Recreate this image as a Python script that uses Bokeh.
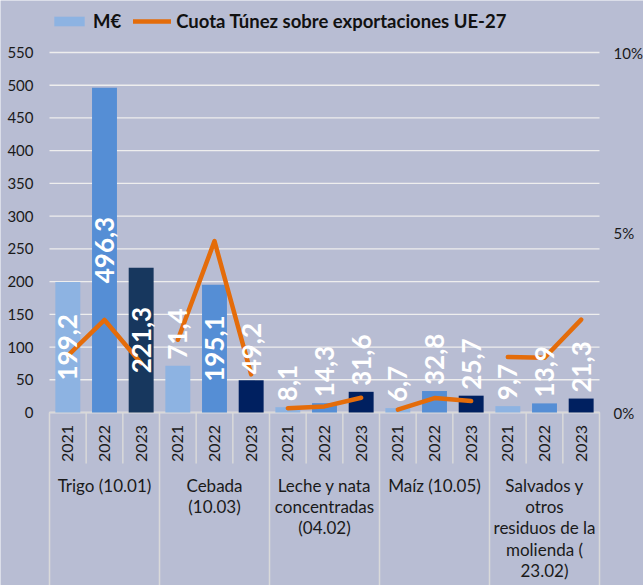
import numpy as np
from bokeh.plotting import figure
from bokeh.models import Range1d, ColumnDataSource, Legend, LegendItem
from bokeh.core.properties import value
from bokeh.embed import file_html
from bokeh.resources import INLINE

# ---------------- data ----------------
groups = ["Trigo (10.01)", "Cebada\n(10.03)", "Leche y nata\nconcentradas\n(04.02)",
          "Maíz (10.05)", "Salvados y\notros\nresiduos de la\nmolienda (\n23.02)"]
years = ["2021", "2022", "2023"]
meur_trigo = [199.2, 496.3, 221.3]
meur_cebada = [71.4, 195.1, 49.2]
meur_leche = [8.1, 14.3, 31.6]
meur_maiz = [6.7, 32.8, 25.7]
meur_salvados = [9.7, 13.9, 21.3]
share_trigo = [1.58, 2.57, 1.37]
share_cebada = [2.02, 4.76, 1.06]
share_leche = [0.12, 0.17, 0.41]
share_maiz = [0.08, 0.40, 0.32]
share_salvados = [1.54, 1.52, 2.58]
left_ticks = list(range(0, 551, 50))
right_ticks = [0, 5, 10]

meur = [meur_trigo, meur_cebada, meur_leche, meur_maiz, meur_salvados]
share = [share_trigo, share_cebada, share_leche, share_maiz, share_salvados]

# ---------------- styles / layout ----------------
FONT = "Lato"
BG = "#b8bdd3"
C2021, C2022, C2023, C2023_TRIGO = "#8db3e2", "#558ed5", "#002060", "#17375e"
ORANGE = "#e46c0a"
SEP = "#d9d9d9"
GRID = "#eeeeee"
TXT = "#1a1a1a"
W, H = 643, 585
PLOT_L, PLOT_R = 49, 599   # px of the category area
BASE_Y = 412               # px from top to the zero line
PX = 360 / 550             # px per M€
Y_END = BASE_Y / PX
Y_START = -(H - BASE_Y) / PX
PCT = 10 / 550             # % per M€ unit on the secondary scale

n_per = len(years)
n_g = len(groups)
n_slots = n_per * n_g
SLOT = (PLOT_R - PLOT_L) / n_slots
X_START = -PLOT_L / SLOT
X_END = n_slots + (W - PLOT_R) / SLOT

xs, tops, cols, lbl_txt = [], [], [], []
for gi, vals in enumerate(meur):
    for yi, v in enumerate(vals):
        xs.append(gi * n_per + yi + 0.5)
        tops.append(v)
        if yi == 0:
            cols.append(C2021)
        elif yi == 1:
            cols.append(C2022)
        else:
            cols.append(C2023_TRIGO if gi == 0 else C2023)
        lbl_txt.append(f"{v:.1f}".replace(".", ","))

p = figure(width=W, height=H, output_backend="svg", toolbar_location=None,
           x_range=Range1d(X_START, X_END), y_range=Range1d(Y_START, Y_END),
           x_axis_location=None, y_axis_location=None,
           min_border=0)
p.extra_y_ranges = {"pct": Range1d(Y_START * PCT, Y_END * PCT)}
p.background_fill_color = BG
p.border_fill_color = BG
p.outline_line_color = None
p.grid.visible = False

# horizontal grid lines over the category area
p.segment(x0=[0] * len(left_ticks), x1=[n_slots] * len(left_ticks), y0=left_ticks,
          y1=left_ticks, line_color=GRID, line_width=1.3)

# value-axis labels
p.text(x=[0] * len(left_ticks), y=left_ticks, text=[str(t) for t in left_ticks],
       x_offset=-16, text_align="right", text_baseline="middle", text_font=value(FONT),
       text_font_size="15px", text_color=TXT)
p.text(x=[n_slots] * len(right_ticks), y=right_ticks, text=[f"{t}%" for t in right_ticks],
       y_range_name="pct", x_offset=14, text_align="left", text_baseline="middle",
       text_font=value(FONT), text_font_size="15px", text_color=TXT)

# separators below the axis
inner = [g * n_per + k for g in range(n_g) for k in range(1, n_per)]
outer = [g * n_per for g in range(n_g + 1)]
year_depth = -(463 - 412) / PX
p.segment(x0=inner, x1=inner, y0=[0] * len(inner), y1=[year_depth] * len(inner),
          line_color=SEP, line_width=1.5)
p.segment(x0=outer, x1=outer, y0=[0] * len(outer), y1=[Y_START] * len(outer),
          line_color=SEP, line_width=1.5)
p.segment(x0=[0], x1=[n_slots], y0=[0], y1=[0], line_color=SEP, line_width=1.5)

src = ColumnDataSource(dict(x=xs, top=tops, color=cols, label=lbl_txt))
bars = p.vbar(x="x", top="top", bottom=0, width=0.68, fill_color="color",
              line_color=None, source=src)

# line (secondary scale), one piece per product
line_xs = [[g * n_per + k + 0.5 for k in range(n_per)] for g in range(n_g)]
line_ys = [list(s) for s in share]
line = p.multi_line(xs=line_xs, ys=line_ys, y_range_name="pct", line_color=ORANGE,
                    line_width=4.5, line_join="round", line_cap="round")

# data labels
THR = 120
cx = [x for x, t in zip(xs, tops) if t >= THR]
cy = [t / 2 for t in tops if t >= THR]
ct = [l for l, t in zip(lbl_txt, tops) if t >= THR]
tx = [x for x, t in zip(xs, tops) if t < THR]
ty = [t for t in tops if t < THR]
tt = [l for l, t in zip(lbl_txt, tops) if t < THR]
p.text(x=cx, y=cy, text=ct, angle=np.pi / 2, text_align="center", text_baseline="middle",
       text_font=value(FONT), text_font_style="bold", text_font_size="26px",
       text_color="white")
p.text(x=tx, y=ty, text=tt, angle=np.pi / 2, text_align="left", text_baseline="middle",
       y_offset=-6, text_font=value(FONT), text_font_style="bold", text_font_size="26px",
       text_color="white")

# category labels
year_labels = [years[k] for g in range(n_g) for k in range(n_per)]
p.text(x=xs, y=[-(443 - 412) / PX] * len(xs), text=year_labels, angle=np.pi / 2,
       text_align="center", text_baseline="middle", text_font=value(FONT),
       text_font_size="16px", text_color=TXT)
gx = [g * n_per + n_per / 2 for g in range(n_g)]
p.text(x=gx, y=[-(474 - 412) / PX] * n_g, text=groups, text_align="center",
       text_baseline="top", text_font=value(FONT), text_font_size="17px",
       text_color=TXT, text_line_height=1.02)

legend = Legend(items=[LegendItem(label="M€", renderers=[bars], index=0),
                       LegendItem(label="Cuota Túnez sobre exportaciones UE-27", renderers=[line])],
                orientation="horizontal", location=(50, 553), glyph_width=38, glyph_height=12,
                label_text_font=FONT, label_text_font_style="bold", label_text_font_size="18.5px",
                label_text_color="#111111", spacing=12, label_standoff=5, padding=0, margin=0,
                border_line_alpha=0, background_fill_alpha=0)
p.add_layout(legend, "center")

open("out.html", "w").write(file_html(p, INLINE))
